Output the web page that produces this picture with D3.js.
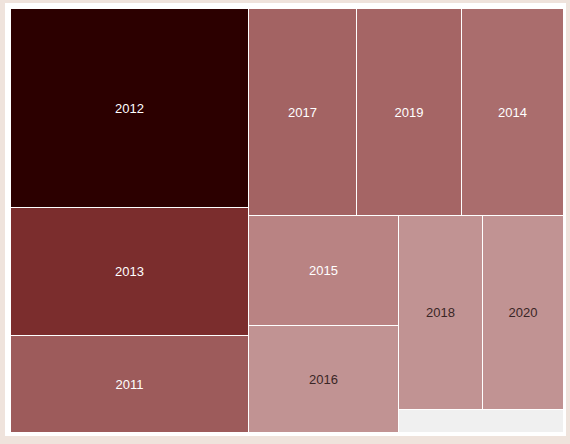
<!DOCTYPE html>
<html>
<head>
<meta charset="utf-8">
<script src="https://cdn.jsdelivr.net/npm/d3@7"></script>
<style>
  html, body { margin: 0; padding: 0; background: #efe3dc; }
  svg { display: block; }
</style>
</head>
<body>
<svg id="chart" width="570" height="444"></svg>
<script>
// Data (in display order)
const years  = ["2012", "2013", "2011", "2017", "2019", "2014", "2015", "2016", "2018", "2020"];
const values = [473.6, 304.6, 230.9, 223.6, 217.4, 211.1, 165.0, 160.5, 163.0, 157.1];
// Unallocated remainder shown as an empty grey area
const remainder = 38.0;

// Styles
const fills = {
  "2012": "#2c0000", "2013": "#7b2d2d", "2011": "#9d5b5b", "2017": "#a36363",
  "2019": "#a56565", "2014": "#aa6d6d", "2015": "#b98383", "2016": "#c19393",
  "2018": "#c19393", "2020": "#c19393"
};
const darkText = new Set(["2016", "2018", "2020"]);

const svg = d3.select("#chart");

// white panel
svg.append("rect").attr("x", 5).attr("y", 3).attr("width", 561).attr("height", 433).attr("fill", "#ffffff");

const X0 = 11, Y0 = 9, TW = 552, TH = 423;

const children = years.map((y, i) => ({ name: y, value: values[i] }));
children.push({ name: null, value: remainder, blank: true });

const root = d3.hierarchy({ children }).sum(d => d.value || 0);

d3.treemap()
  .tile(d3.treemapSquarify)
  .size([TW, TH])
  .paddingInner(1)
  .round(true)(root);

const g = svg.append("g").attr("transform", `translate(${X0},${Y0})`);

const cell = g.selectAll("g.cell")
  .data(root.leaves())
  .join("g")
  .attr("class", "cell")
  .attr("transform", d => `translate(${d.x0},${d.y0})`);

cell.append("rect")
  .attr("width", d => d.x1 - d.x0)
  .attr("height", d => d.y1 - d.y0)
  .attr("fill", d => d.data.blank ? "#f0f0f0" : fills[d.data.name]);

cell.filter(d => !d.data.blank).append("text")
  .attr("x", d => (d.x1 - d.x0) / 2)
  .attr("y", d => (d.y1 - d.y0) / 2)
  .attr("text-anchor", "middle")
  .attr("dominant-baseline", "central")
  .attr("font-family", "'Liberation Sans', Arial, sans-serif")
  .attr("font-size", 13)
  .attr("fill", d => darkText.has(d.data.name) ? "#3a2626" : "#ffffff")
  .text(d => d.data.name);
</script>
</body>
</html>
